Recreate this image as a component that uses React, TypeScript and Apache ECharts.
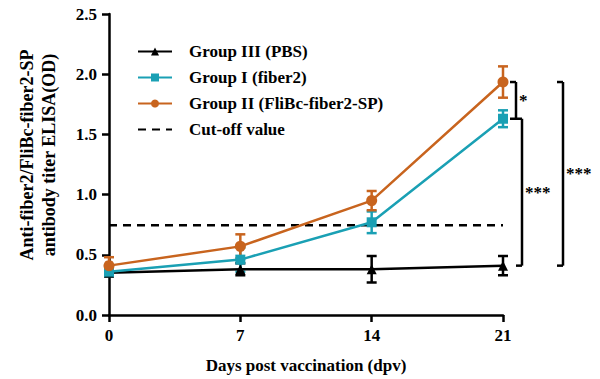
import React, { useEffect, useRef } from "react";
import * as echarts from "echarts";

const days = [0, 7, 14, 21];
const pbsMean = [0.35, 0.38, 0.38, 0.41];
const pbsErr = [0.02, 0.05, 0.11, 0.08];
const fiberMean = [0.36, 0.46, 0.77, 1.63];
const fiberErr = [0.04, 0.1, 0.09, 0.07];
const fliMean = [0.41, 0.57, 0.95, 1.935];
const fliErr = [0.07, 0.1, 0.08, 0.13];
const cutoff = 0.745;
const yTicks = [0, 0.5, 1.0, 1.5, 2.0, 2.5];

const FONT = "Liberation Serif";
const ORANGE = "#C8641E";
const CYAN = "#1AA0B4";
const BLACK = "#000000";

function errSeries(mean: number[], err: number[], color: string) {
  return {
    type: "custom",
    silent: true,
    clip: false,
    z: 3,
    data: days.map((d, i) => [d, mean[i], err[i]]),
    renderItem: (params: any, api: any) => {
      const x = api.value(0);
      const m = api.value(1);
      const e = api.value(2);
      const top = api.coord([x, m + e]);
      const bot = api.coord([x, m - e]);
      const w = 5;
      const st = { stroke: color, lineWidth: 2.5 };
      return {
        type: "group",
        children: [
          { type: "line", shape: { x1: top[0], y1: top[1], x2: bot[0], y2: bot[1] }, style: st },
          { type: "line", shape: { x1: top[0] - w, y1: top[1], x2: top[0] + w, y2: top[1] }, style: st },
          { type: "line", shape: { x1: bot[0] - w, y1: bot[1], x2: bot[0] + w, y2: bot[1] }, style: st },
        ],
      };
    },
  };
}

// significance brackets between day-21 means
const bracketTop = [fliMean[3], fiberMean[3], fliMean[3]];
const bracketBottom = [fiberMean[3], pbsMean[3], pbsMean[3]];
const bracketOffset = [13, 19, 60];
const bracketLabel = ["*", "***", "***"];

export default function App() {
  const ref = useRef<HTMLDivElement>(null);
  useEffect(() => {
    if (!ref.current) return;
    document.body.style.margin = "0";
    const chart = echarts.init(ref.current, null, { renderer: "svg" });
    const axisLine = { show: true, lineStyle: { color: BLACK, width: 2.5 } };
    const axisLabelStyle = { color: BLACK, fontFamily: FONT, fontWeight: "bold" as const, fontSize: 17 };
    chart.setOption({
      animation: false,
      backgroundColor: "#ffffff",
      grid: { left: 109, right: 97, top: 14, bottom: 63, containLabel: false },
      legend: {
        orient: "vertical",
        left: 132,
        top: 38,
        itemWidth: 34,
        itemHeight: 10,
        itemGap: 9,
        data: [
          "Group III (PBS)",
          "Group I (fiber2)",
          "Group II (FliBc-fiber2-SP)",
          { name: "Cut-off value", itemStyle: { opacity: 0 } },
        ],
        textStyle: { color: BLACK, fontFamily: FONT, fontWeight: "bold", fontSize: 17, padding: [0, 0, 0, 12] },
      },
      xAxis: {
        type: "value",
        min: 0,
        max: 21,
        interval: 7,
        axisLine,
        axisTick: { show: true, length: 7, lineStyle: { color: BLACK, width: 2.5 } },
        axisLabel: { ...axisLabelStyle, margin: 12 },
        splitLine: { show: false },
        name: "Days post vaccination (dpv)",
        nameLocation: "middle",
        nameGap: 42,
        nameTextStyle: { color: BLACK, fontFamily: FONT, fontWeight: "bold", fontSize: 17 },
      },
      yAxis: {
        type: "value",
        min: 0,
        max: 2.5,
        interval: 0.5,
        axisLine,
        axisTick: { show: true, length: 7, lineStyle: { color: BLACK, width: 2.5 } },
        axisLabel: {
          ...axisLabelStyle,
          margin: 12,
          formatter: (v: number) => (yTicks.includes(v) ? v.toFixed(1) : ""),
        },
        splitLine: { show: false },
      },
      graphic: [
        {
          type: "text",
          x: 38,
          y: 155,
          rotation: Math.PI / 2,
          style: {
            text: "Anti-fiber2/FliBc-fiber2-SP\nantibody titer ELISA(OD)",
            fill: BLACK,
            fontFamily: FONT,
            fontWeight: "bold",
            fontSize: 18,
            align: "center",
            verticalAlign: "middle",
            lineHeight: 22,
          },
        },
      ],
      series: [
        {
          name: "Cut-off value",
          type: "line",
          data: [[0, cutoff], [21, cutoff]],
          symbol: "none",
          lineStyle: { color: BLACK, width: 2.5, type: [8, 6] },
          itemStyle: { color: BLACK },
          z: 1,
        },
        {
          name: "Group III (PBS)",
          type: "line",
          data: days.map((d, i) => [d, pbsMean[i]]),
          symbol: "triangle",
          symbolSize: 10,
          lineStyle: { color: BLACK, width: 2.5 },
          itemStyle: { color: BLACK },
          z: 4,
        },
        {
          name: "Group I (fiber2)",
          type: "line",
          data: days.map((d, i) => [d, fiberMean[i]]),
          symbol: "rect",
          symbolSize: 10,
          lineStyle: { color: CYAN, width: 2.5 },
          itemStyle: { color: CYAN },
          z: 5,
        },
        {
          name: "Group II (FliBc-fiber2-SP)",
          type: "line",
          data: days.map((d, i) => [d, fliMean[i]]),
          symbol: "circle",
          symbolSize: 11,
          lineStyle: { color: ORANGE, width: 2.5 },
          itemStyle: { color: ORANGE },
          z: 6,
        },
        errSeries(pbsMean, pbsErr, BLACK),
        errSeries(fiberMean, fiberErr, CYAN),
        errSeries(fliMean, fliErr, ORANGE),
        {
          type: "custom",
          silent: true,
          clip: false,
          data: bracketTop.map((t, i) => [t, bracketBottom[i], bracketOffset[i], i]),
          renderItem: (params: any, api: any) => {
            const t = api.value(0);
            const b = api.value(1);
            const off = api.value(2);
            const idx = api.value(3);
            const pt = api.coord([21, t]);
            const pb = api.coord([21, b]);
            const x = pt[0] + off;
            const st = { stroke: BLACK, lineWidth: 2.5 };
            const w = 6;
            return {
              type: "group",
              children: [
                { type: "line", shape: { x1: x, y1: pt[1], x2: x, y2: pb[1] }, style: st },
                { type: "line", shape: { x1: x - w, y1: pt[1], x2: x, y2: pt[1] }, style: st },
                { type: "line", shape: { x1: x - w, y1: pb[1], x2: x, y2: pb[1] }, style: st },
                {
                  type: "text",
                  x: x + 3,
                  y: (pt[1] + pb[1]) / 2,
                  style: {
                    text: bracketLabel[idx],
                    fill: BLACK,
                    fontFamily: FONT,
                    fontWeight: "bold",
                    fontSize: 17,
                    align: "left",
                    verticalAlign: "middle",
                  },
                },
              ],
            };
          },
        },
      ],
    });
    return () => chart.dispose();
  }, []);
  return <div ref={ref} style={{ width: 600, height: 379 }} />;
}
